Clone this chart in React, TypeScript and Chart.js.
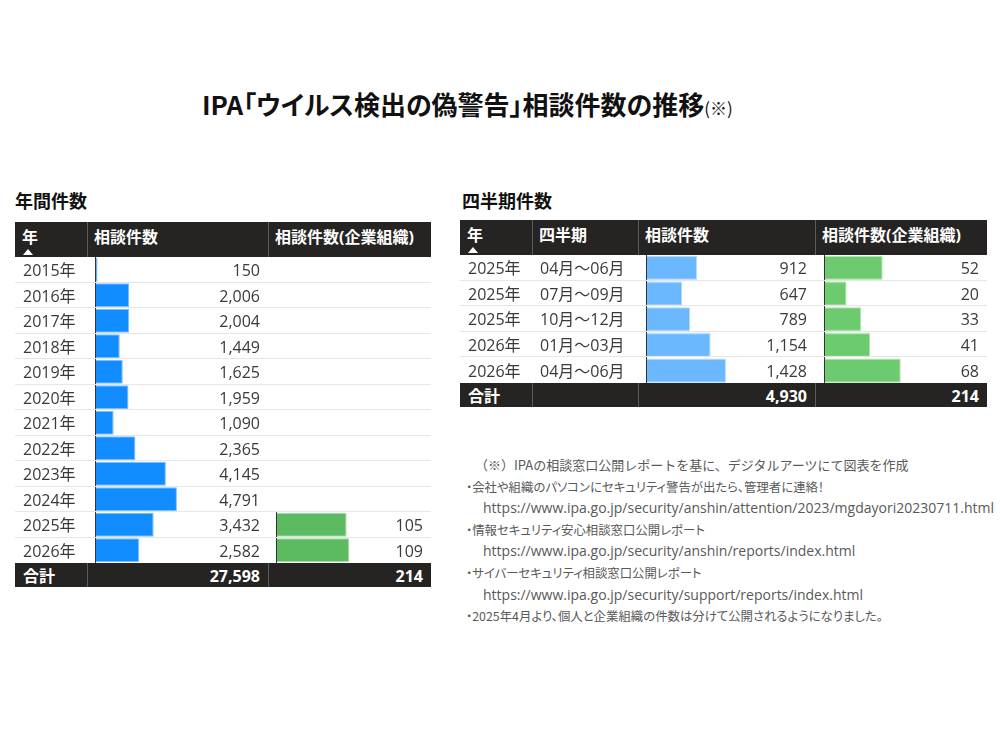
import { useEffect, useRef } from "react";
import { Chart, registerables } from "chart.js";

Chart.register(...registerables);

// ---- data ----
const years = [
  "2015年", "2016年", "2017年", "2018年", "2019年", "2020年",
  "2021年", "2022年", "2023年", "2024年", "2025年", "2026年",
];
const yearCounts = [150, 2006, 2004, 1449, 1625, 1959, 1090, 2365, 4145, 4791, 3432, 2582];
const yearCorpCounts: (number | null)[] = [
  null, null, null, null, null, null, null, null, null, null, 105, 109,
];

const quarterYears = ["2025年", "2025年", "2025年", "2026年", "2026年"];
const quarterRanges = ["04月～06月", "07月～09月", "10月～12月", "01月～03月", "04月～06月"];
const quarterCounts = [912, 647, 789, 1154, 1428];
const quarterCorpCounts = [52, 20, 33, 41, 68];

const titleText = "IPA「ウイルス検出の偽警告」相談件数の推移";
const noteLines = [
  "（※）IPAの相談窓口公開レポートを基に、デジタルアーツにて図表を作成",
  "・会社や組織のパソコンにセキュリティ警告が出たら、管理者に連絡！",
  "https://www.ipa.go.jp/security/anshin/attention/2023/mgdayori20230711.html",
  "・情報セキュリティ安心相談窓口公開レポート",
  "https://www.ipa.go.jp/security/anshin/reports/index.html",
  "・サイバーセキュリティ相談窓口公開レポート",
  "https://www.ipa.go.jp/security/support/reports/index.html",
  "・2025年4月より、個人と企業組織の件数は分けて公開されるようになりました。",
];

// ---- layout ----
const FONT = '"Segoe UI", "Open Sans", "Noto Sans CJK JP", sans-serif';
const JP = '"Noto Sans CJK JP", sans-serif';
const ROW_H = 25.5;
const HEAD_H = 35;
const TOTAL_H = 24;
const DARK = "#252423";
const TEXT = "#3a3a3a";

const fmt = (n: number) => n.toLocaleString("en-US");
const sum = (a: (number | null)[]) => a.reduce<number>((s, v) => s + (v ?? 0), 0);

type BarProps = {
  labels: string[];
  values: (number | null)[];
  color: string;
  edge: string;
  max: number;
  left: number;
  top: number;
  width: number;
};

const BarColumn = ({ labels, values, color, edge, max, left, top, width }: BarProps) => {
  const ref = useRef<HTMLCanvasElement>(null);

  useEffect(() => {
    if (!ref.current) return;
    const chart = new Chart(ref.current, {
      type: "bar",
      data: {
        labels,
        datasets: [
          {
            data: values,
            backgroundColor: color,
            borderColor: edge,
            borderWidth: 1,
            barPercentage: 0.94,
            categoryPercentage: 1,
          },
        ],
      },
      options: {
        indexAxis: "y",
        animation: false,
        responsive: true,
        maintainAspectRatio: false,
        events: [],
        layout: { padding: 0 },
        plugins: { legend: { display: false }, tooltip: { enabled: false } },
        scales: {
          x: { display: false, min: 0, max },
          y: {
            display: true,
            ticks: { display: false },
            grid: { display: false, drawTicks: false },
            border: { display: true, dash: [1, 1], color: "#333", width: 1, z: 1 },
          },
        },
      },
    });
    return () => chart.destroy();
  }, []);

  return (
    <div style={{ position: "absolute", left, top, width, height: labels.length * ROW_H }}>
      <canvas ref={ref}></canvas>
    </div>
  );
};

type TableProps = {
  left: number;
  top: number;
  edges: number[];
  headers: string[];
  rows: string[][];
  align: ("left" | "right")[];
  totals: string[];
};

const Table = ({ left, top, edges, headers, rows, align, totals }: TableProps) => {
  const width = edges[edges.length - 1];
  const pad = 8;
  const cellStyle = (i: number): React.CSSProperties => {
    const x0 = edges[i];
    const x1 = edges[i + 1];
    const base: React.CSSProperties = { position: "absolute", top: 2, bottom: 0, display: "flex", alignItems: "center" };
    return align[i] === "left" ? { ...base, left: x0 + pad } : { ...base, right: width - x1 + pad };
  };
  const dividers = edges.slice(1, -1).map((x, i) => (
    <div key={i} style={{ position: "absolute", left: x, top: 0, bottom: 0, width: 1, background: "#5c5c5c" }} />
  ));

  return (
    <div style={{ position: "absolute", left, top, width, fontFamily: FONT, fontSize: 16, lineHeight: 1 }}>
      {/* header */}
      <div style={{ position: "absolute", left: 0, top: 0, width, height: HEAD_H, background: DARK, color: "#fff", fontWeight: 700 }}>
        {dividers}
        {headers.map((h, i) => (
          <div key={i} style={{ position: "absolute", left: edges[i] + 7, top: 7, whiteSpace: "nowrap" }}>
            {h}
          </div>
        ))}
        <div
          style={{
            position: "absolute",
            left: 8,
            top: 27,
            width: 0,
            height: 0,
            borderLeft: "5px solid transparent",
            borderRight: "5px solid transparent",
            borderBottom: "6px solid #fff",
          }}
        />
      </div>
      {/* body rows */}
      {rows.map((r, ri) => (
        <div
          key={ri}
          style={{
            position: "absolute",
            left: 0,
            top: HEAD_H + ri * ROW_H,
            width,
            height: ROW_H,
            borderBottom: ri < rows.length - 1 ? "1px solid #e6e6e6" : "none",
            boxSizing: "border-box",
            color: TEXT,
          }}
        >
          {r.map((c, ci) => (
            <div key={ci} style={{ ...cellStyle(ci), zIndex: 2 }}>
              {c}
            </div>
          ))}
        </div>
      ))}
      {/* total row */}
      <div
        style={{
          position: "absolute",
          left: 0,
          top: HEAD_H + rows.length * ROW_H,
          width,
          height: TOTAL_H,
          background: DARK,
          color: "#fff",
          fontWeight: 700,
        }}
      >
        {dividers}
        {totals.map((c, ci) => (
          <div key={ci} style={cellStyle(ci)}>
            {c}
          </div>
        ))}
      </div>
    </div>
  );
};

export default function App() {
  const corpStart = yearCorpCounts.findIndex((v) => v !== null);
  const corpYears = years.slice(corpStart);
  const corpValues = yearCorpCounts.slice(corpStart);

  const leftTop = 222;
  const rightTop = 221;

  return (
    <div style={{ position: "absolute", left: 0, top: 0, width: 1000, height: 750, background: "#fff", fontFamily: FONT }}>
      {/* title */}
      <div
        style={{
          position: "absolute",
          left: 202,
          top: 89,
          fontFamily: JP,
          fontWeight: 700,
          fontSize: 26,
          lineHeight: "30px",
          color: "#111",
          whiteSpace: "nowrap",
          fontFeatureSettings: '"palt"',
        }}
      >
        {titleText}
        <span style={{ fontSize: 17, fontWeight: 400 }}>(※)</span>
      </div>

      {/* section titles */}
      <div style={{ position: "absolute", left: 15, top: 188, fontSize: 18, fontWeight: 700, color: "#111", fontFamily: JP, lineHeight: "24px" }}>
        年間件数
      </div>
      <div style={{ position: "absolute", left: 462, top: 188, fontSize: 18, fontWeight: 700, color: "#111", fontFamily: JP, lineHeight: "24px" }}>
        四半期件数
      </div>

      {/* bars (under the text) */}
      <BarColumn labels={years} values={yearCounts} color="#118DFF" edge="#7cc0ff" max={10000} left={95} top={leftTop + HEAD_H} width={171} />
      <BarColumn
        labels={corpYears}
        values={corpValues}
        color="#5CBB60"
        edge="#a5dca7"
        max={220}
        left={276}
        top={leftTop + HEAD_H + corpStart * ROW_H}
        width={148}
      />
      <BarColumn labels={quarterRanges} values={quarterCounts} color="#6CB8FF" edge="#b3dbff" max={3000} left={646} top={rightTop + HEAD_H - 1} width={168} />
      <BarColumn labels={quarterRanges} values={quarterCorpCounts} color="#6CCB6F" edge="#b0e4b2" max={140} left={824} top={rightTop + HEAD_H - 1} width={158} />

      {/* tables */}
      <Table
        left={15}
        top={leftTop}
        edges={[0, 72, 253, 416]}
        headers={["年", "相談件数", "相談件数(企業組織)"]}
        align={["left", "right", "right"]}
        rows={years.map((y, i) => [y, fmt(yearCounts[i]), yearCorpCounts[i] === null ? "" : fmt(yearCorpCounts[i] as number)])}
        totals={["合計", fmt(sum(yearCounts)), fmt(sum(yearCorpCounts))]}
      />
      <Table
        left={460}
        top={rightTop - 1}
        edges={[0, 72, 178, 355, 527]}
        headers={["年", "四半期", "相談件数", "相談件数(企業組織)"]}
        align={["left", "left", "right", "right"]}
        rows={quarterYears.map((y, i) => [y, quarterRanges[i], fmt(quarterCounts[i]), fmt(quarterCorpCounts[i])])}
        totals={["合計", "", fmt(sum(quarterCounts)), fmt(sum(quarterCorpCounts))]}
      />

      {/* notes */}
      {noteLines.map((t, i) => {
        const isUrl = t.startsWith("http");
        const left = i === 0 ? 475 : isUrl ? 483 : 466;
        return (
          <div
            key={i}
            style={{
              position: "absolute",
              left,
              top: 455 + i * 21.6,
              height: 20,
              lineHeight: "20px",
              fontSize: isUrl ? 14 : i === 0 ? 13 : 12.4,
              color: "#595959",
              whiteSpace: "nowrap",
              fontFamily: isUrl ? '"Open Sans", sans-serif' : JP,
              fontFeatureSettings: i === 0 || isUrl ? "normal" : '"palt"',
            }}
          >
            {t}
          </div>
        );
      })}
    </div>
  );
}
